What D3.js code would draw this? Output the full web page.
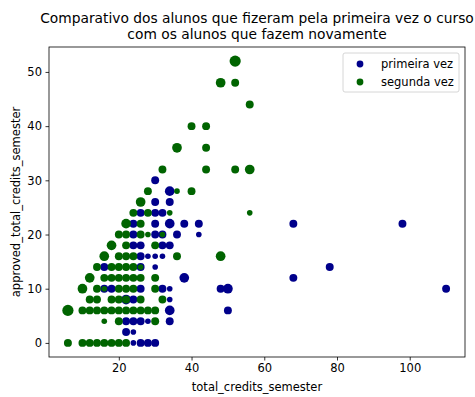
<!DOCTYPE html>
<html>
<head>
<meta charset="utf-8">
<script src="https://cdn.jsdelivr.net/npm/d3@7"></script>
<style>
	body { margin: 0; background: #fff; }
	svg text { font-family: "DejaVu Sans", sans-serif; }
</style>
</head>
<body>
<div id="chart"></div>
<script>

// series: [total_credits_semester, approved_total_credits_semester, weight]
var primeiraVez = [
	[68,22,2],[98,22,2],[78,14,2],[68,12,2],[110,10,2],
	[50,10,3],[48,10,2],[50,6,2],[38,12,3],[42,22,2],[38,22,2],[42,20,1],[36,20,2],
	[34,22,3],[34,28,3],[34,26,2],[30,30,2],[30,26,2],[30,24,2],[32,24,2],[26,24,2],
	[30,22,2],[24,22,2],[30,20,2],[32,20,2],[24,20,2],
	[26,18,2],[24,18,2],[32,18,2],[34,18,2],
	[26,16,2],[28,16,1],[30,16,1],[32,16,1],
	[16,14,2],[26,14,2],[30,14,1],
	[16,10,2],[18,10,2],[26,10,2],[32,10,2],[34,10,1],
	[22,8,3],[24,8,2],[34,8,1],
	[34,6,3],
	[22,4,2],[24,4,2],[26,4,2],[28,4,1],[34,4,2],
	[22,2,2],[24,2,1],
	[24,0,1],[26,0,2],[28,0,2],[30,0,2]
];

var segundaVez = [
	[52,52,4],[48,48,3],[52,48,2],[56,44,2],[40,40,2],[44,40,2],[36,36,3],[44,36,2],
	[32,32,2],[44,32,2],[52,32,2],[56,32,3],
	[28,28,2],[36,28,1],[40,28,2],
	[26,26,3],
	[24,24,2],[28,24,2],[34,24,1],[56,24,1],
	[22,22,3],[26,22,2],
	[20,20,2],[22,20,2],[26,20,2],[28,20,1],[32,20,1],
	[18,18,3],[22,18,2],[30,18,2],
	[16,16,3],[20,16,2],[22,16,2],[24,16,2],[36,16,2],[48,16,3],
	[14,14,2],[18,14,2],[20,14,2],[22,14,2],[24,14,2],[26,14,1],
	[12,12,3],[16,12,2],[18,12,2],[20,12,2],[22,12,2],[24,12,2],[26,12,2],[30,12,2],
	[10,10,3],[14,10,2],[16,10,1],[20,10,2],[22,10,2],[24,10,2],[30,10,2],
	[12,8,2],[14,8,2],[18,8,2],[20,8,2],[22,8,2],[26,8,2],[32,8,2],
	[6,6,4],[10,6,2],[12,6,2],[14,6,2],[16,6,2],[18,6,2],[20,6,2],[22,6,2],[24,6,2],[26,6,2],[28,6,2],[30,6,2],
	[16,4,1],[20,4,2],[30,4,2],
	[6,0,2],[10,0,2],[12,0,2],[14,0,2],[16,0,2],[18,0,2],[20,0,2],[22,0,2]
];

var xTicks = [20, 40, 60, 80, 100];
var yTicks = [0, 10, 20, 30, 40, 50];
var seriesNames = ["primeira vez", "segunda vez"];
var seriesColors = ["#00008b", "#006400"];
var titleLines = ["Comparativo dos alunos que fizeram pela primeira vez o curso", "com os alunos que fazem novamente"];

var W = 475, H = 397;
var m = {left: 49, right: 10, top: 47, bottom: 40};
var fs = "11.5px";

var svg = d3.select("#chart")
	.append("svg")
	.attr("width", W)
	.attr("height", H);

// (scales) matplotlib style 5% margins
var x = d3.scaleLinear().domain([0.8, 115.2]).range([m.left, W - m.right]);
var y = d3.scaleLinear().domain([-2.6, 54.6]).range([H - m.bottom, m.top]);
var r = d3.scaleSqrt().domain([0, 4]).range([0, 5.6]);

// (points)
[primeiraVez, segundaVez].forEach(function(data, i) {
	svg.append("g")
		.selectAll("circle")
		.data(data)
		.enter()
		.append("circle")
		.attr("cx", function(d) { return x(d[0]); })
		.attr("cy", function(d) { return y(d[1]); })
		.attr("r", function(d) { return r(d[2]); })
		.attr("fill", seriesColors[i]);
});

// (axes)
var xAxis = svg.append("g")
	.attr("transform", "translate(0," + (H - m.bottom) + ")")
	.call(d3.axisBottom(x).tickValues(xTicks).tickSize(3.5).tickPadding(3.5).tickSizeOuter(0));
var yAxis = svg.append("g")
	.attr("transform", "translate(" + m.left + ",0)")
	.call(d3.axisLeft(y).tickValues(yTicks).tickSize(3.5).tickPadding(3.5).tickSizeOuter(0));
[xAxis, yAxis].forEach(function(a) {
	a.select(".domain").remove();
	a.selectAll("text").attr("font-size", fs).attr("fill", "#000")
		.style("font-family", "DejaVu Sans, sans-serif");
	a.selectAll("line").attr("stroke", "#000").attr("stroke-width", 0.8);
});

// (frame)
svg.append("rect")
	.attr("x", m.left)
	.attr("y", m.top)
	.attr("width", W - m.left - m.right)
	.attr("height", H - m.top - m.bottom)
	.attr("fill", "none")
	.attr("stroke", "#000")
	.attr("stroke-width", 0.8);

// (labels)
var cx = (m.left + W - m.right) / 2;
svg.append("text")
	.attr("x", cx)
	.attr("y", 391)
	.attr("text-anchor", "middle")
	.attr("font-size", fs)
	.text("total_credits_semester");
svg.append("text")
	.attr("transform", "translate(16," + ((m.top + H - m.bottom) / 2) + ") rotate(-90)")
	.attr("text-anchor", "middle")
	.attr("dy", "0.35em")
	.attr("font-size", fs)
	.text("approved_total_credits_semester");
svg.selectAll(".title")
	.data(titleLines)
	.enter()
	.append("text")
	.attr("class", "title")
	.attr("x", cx)
	.attr("y", function(d, i) { return 23 + i * 16; })
	.attr("text-anchor", "middle")
	.attr("font-size", "13.8px")
	.text(function(d) { return d; });

// (legend)
var lg = svg.append("g").attr("transform", "translate(343,53)");
lg.append("rect")
	.attr("width", 116)
	.attr("height", 39)
	.attr("rx", 2)
	.attr("fill", "#fff")
	.attr("fill-opacity", 0.8)
	.attr("stroke", "#ccc")
	.attr("stroke-width", 0.8);
var item = lg.selectAll(".item")
	.data(seriesNames)
	.enter()
	.append("g")
	.attr("transform", function(d, i) { return "translate(0," + (11 + i * 18) + ")"; });
item.append("circle")
	.attr("cx", 17)
	.attr("r", 3.4)
	.attr("fill", function(d, i) { return seriesColors[i]; });
item.append("text")
	.attr("x", 38)
	.attr("dy", "0.35em")
	.attr("font-size", fs)
	.text(function(d) { return d; });

</script>
</body>
</html>
